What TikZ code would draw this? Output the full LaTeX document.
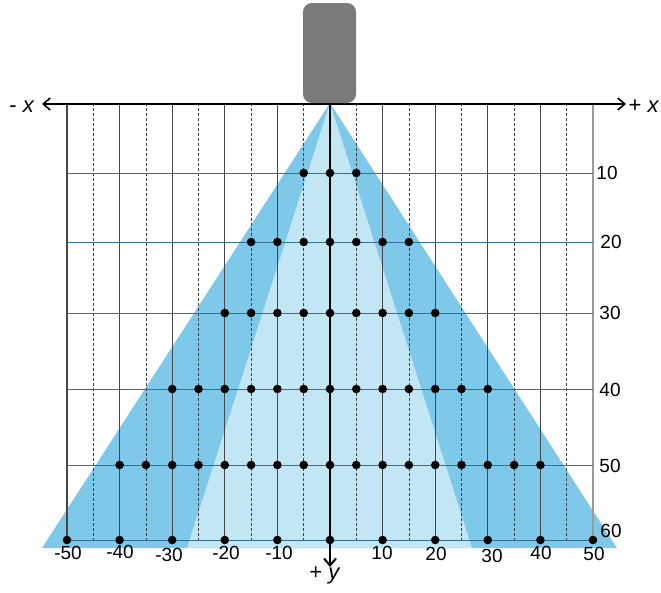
\documentclass[tikz,border=0pt]{standalone}
\usepackage{fontspec}
\setmainfont{Liberation Sans}
\usetikzlibrary{arrows.meta}
\definecolor{outerblue}{RGB}{126,201,234}
\definecolor{innerblue}{RGB}{195,230,245}
\definecolor{rowline}{RGB}{52,112,150}
\definecolor{devgray}{RGB}{122,122,122}
\begin{document}
\begin{tikzpicture}[x=1pt,y=-1pt,
  gridsolid/.style={draw=black!72,line width=1.1pt},
  griddash/.style={draw=black!75,line width=0.8pt,dash pattern=on 3pt off 2pt},
  rowln/.style={draw=rowline,line width=1pt},
  axisln/.style={draw=black,line width=1.6pt},
  barb/.style={-{Straight Barb[length=7pt,width=12pt]}},
  dot/.style={circle,fill=black,inner sep=0pt,minimum size=8.6pt},
  lbl/.style={font=\fontsize{19}{21}\selectfont,inner sep=0pt,anchor=base},
  axl/.style={font=\fontsize{22}{24}\selectfont,inner sep=0pt,anchor=base}]
\useasboundingbox (0,0) rectangle (661,592);
% beams
\fill[outerblue] (330,103) -- (42,548) -- (617,548) -- cycle;
\fill[innerblue] (330,103) -- (187,548) -- (472,548) -- cycle;
% vertical grid
\foreach \k in {-5,-4,-3,-2,-1,1,2,3,4}
  \draw[gridsolid] (330+52.6*\k,103) -- (330+52.6*\k,540);
\draw[draw=black!40,line width=1.2pt] (593,103) -- (593,540);
\foreach \k in {-5,...,4}
  \draw[griddash] (330+52.6*\k+26.3,103) -- (330+52.6*\k+26.3,540);
% row lines
\foreach \y in {173,242,313,389,465,540}
  \draw[rowln] (67,\y) -- (593,\y);
% axes
\coordinate (xl) at (42,104);
\coordinate (xr) at (626,104);
\coordinate (o) at (330,104);
\coordinate (yb) at (330,567);
\draw[axisln,{Straight Barb[length=7pt,width=12pt]}-{Straight Barb[length=7pt,width=12pt]}] (xl) -- (xr);
\draw[draw=black,line width=2pt,barb] (o) -- (yb);
% device
\fill[devgray,rounded corners=9pt] (303,3) rectangle (356,103);
% dots
\foreach \k in {-1,0,1} \node[dot] at (330+5.26*5*\k,173) {};
\foreach \k in {-3,...,3} \node[dot] at (330+5.26*5*\k,242) {};
\foreach \k in {-4,...,4} \node[dot] at (330+5.26*5*\k,313) {};
\foreach \k in {-6,...,6} \node[dot] at (330+5.26*5*\k,389) {};
\foreach \k in {-8,...,8} \node[dot] at (330+5.26*5*\k,465) {};
\foreach \k in {-5,...,5} \node[dot] at (330+52.6*\k,540) {};
% bottom labels
\node[lbl] (bm50) at (68,559) {-50};
\node[lbl] (bm40) at (120,558) {-40};
\node[lbl] (bm30) at (169,561) {-30};
\node[lbl] (bm20) at (226,559) {-20};
\node[lbl] (bm10) at (279,559) {-10};
\node[lbl] (bp10) at (382,559) {10};
\node[lbl] (bp20) at (436,560) {20};
\node[lbl] (bp30) at (492,562) {30};
\node[lbl] (bp40) at (541,559) {40};
\node[lbl] (bp50) at (594,560) {50};
% right labels
\node[lbl] (r10) at (607,179) {10};
\node[lbl] (r20) at (611,248) {20};
\node[lbl] (r30) at (610,319) {30};
\node[lbl] (r40) at (610,396) {40};
\node[lbl] (r50) at (610,472) {50};
\node[lbl] (r60) at (611,537) {60};
% axis labels
\node[axl] (mx) at (22,112) {- \textit{x}};
\node[axl] (px) at (644,112) {+ \textit{x}};
\node[axl] (py) at (325,579) {+ \textit{y}};
\end{tikzpicture}
\end{document}
